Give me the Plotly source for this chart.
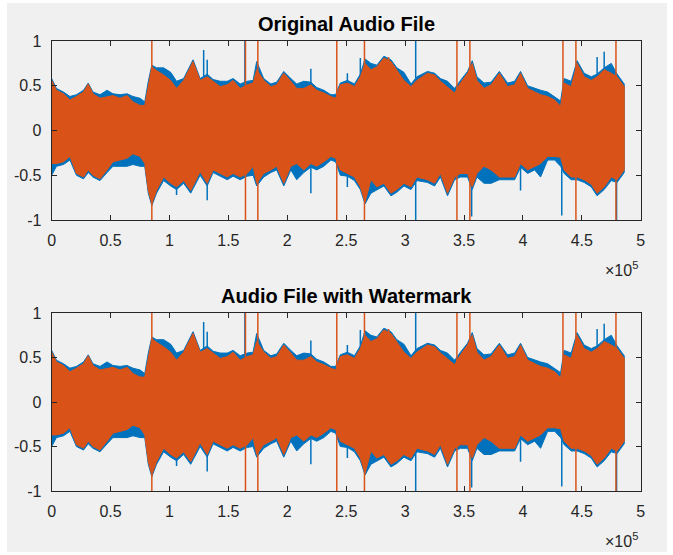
import plotly.graph_objects as go

# ---------------- data ----------------
# envelope sample positions, in units of 1e5 samples
env_x = [0.00, 0.04, 0.10, 0.155, 0.21, 0.27, 0.31, 0.35, 0.41, 0.47,
         0.52, 0.58, 0.64, 0.69, 0.75, 0.79, 0.82, 0.85, 0.89, 0.95,
         1.01, 1.06, 1.12, 1.18, 1.20, 1.26, 1.32, 1.37, 1.43, 1.49,
         1.54, 1.60, 1.66, 1.71, 1.74, 1.80, 1.86, 1.91, 1.97, 2.03,
         2.08, 2.14, 2.20, 2.25, 2.31, 2.37, 2.41, 2.45, 2.51, 2.57,
         2.62, 2.66, 2.71, 2.76, 2.82, 2.88, 2.93, 2.99, 3.05, 3.10,
         3.19, 3.25, 3.30, 3.36, 3.42, 3.47, 3.53, 3.57, 3.61, 3.67,
         3.73, 3.80, 3.87, 3.93, 3.98, 4.04, 4.10, 4.15, 4.21, 4.27,
         4.32, 4.35, 4.41, 4.46, 4.52, 4.58, 4.63, 4.69, 4.75, 4.80,
         4.86]

# orange (second channel) upper / lower envelope
orange_hi = [0.56, 0.45, 0.41, 0.34, 0.38, 0.43, 0.52, 0.41, 0.36, 0.38,
             0.39, 0.36, 0.39, 0.32, 0.28, 0.28, 0.52, 0.71, 0.67, 0.62,
             0.56, 0.47, 0.56, 0.73, 0.77, 0.56, 0.60, 0.55, 0.49, 0.51,
             0.56, 0.47, 0.51, 0.53, 0.68, 0.56, 0.49, 0.51, 0.64, 0.55,
             0.47, 0.47, 0.51, 0.45, 0.42, 0.38, 0.36, 0.51, 0.53, 0.49,
             0.60, 0.75, 0.68, 0.71, 0.81, 0.77, 0.68, 0.56, 0.49, 0.56,
             0.64, 0.62, 0.55, 0.49, 0.42, 0.53, 0.64, 0.75, 0.56, 0.47,
             0.51, 0.64, 0.49, 0.51, 0.64, 0.47, 0.43, 0.40, 0.38, 0.34,
             0.27, 0.53, 0.49, 0.75, 0.60, 0.56, 0.60, 0.68, 0.64, 0.60,
             0.49]
orange_lo = [-0.37, -0.37, -0.35, -0.29, -0.48, -0.52, -0.44, -0.50, -0.54, -0.44,
             -0.35, -0.33, -0.31, -0.26, -0.29, -0.37, -0.67, -0.82, -0.67, -0.52,
             -0.59, -0.63, -0.56, -0.67, -0.62, -0.46, -0.59, -0.44, -0.48, -0.52,
             -0.48, -0.52, -0.48, -0.40, -0.59, -0.48, -0.44, -0.40, -0.59, -0.40,
             -0.37, -0.44, -0.37, -0.40, -0.35, -0.29, -0.31, -0.44, -0.48, -0.52,
             -0.63, -0.80, -0.55, -0.63, -0.59, -0.70, -0.66, -0.59, -0.63, -0.52,
             -0.55, -0.59, -0.48, -0.70, -0.52, -0.48, -0.48, -0.63, -0.48, -0.40,
             -0.44, -0.52, -0.52, -0.52, -0.37, -0.44, -0.40, -0.37, -0.29, -0.29,
             -0.30, -0.44, -0.52, -0.52, -0.55, -0.60, -0.70, -0.63, -0.52, -0.55,
             -0.44]

# blue (first channel) upper / lower envelope
blue_hi = [0.58, 0.47, 0.43, 0.38, 0.40, 0.45, 0.53, 0.43, 0.40, 0.45,
           0.41, 0.40, 0.41, 0.38, 0.36, 0.32, 0.55, 0.73, 0.70, 0.70,
           0.65, 0.55, 0.58, 0.75, 0.79, 0.58, 0.63, 0.57, 0.55, 0.55,
           0.58, 0.52, 0.55, 0.56, 0.77, 0.58, 0.52, 0.54, 0.66, 0.58,
           0.52, 0.55, 0.54, 0.48, 0.45, 0.40, 0.40, 0.53, 0.56, 0.52,
           0.63, 0.80, 0.75, 0.73, 0.83, 0.79, 0.70, 0.65, 0.52, 0.60,
           0.66, 0.64, 0.58, 0.55, 0.47, 0.56, 0.66, 0.78, 0.60, 0.53,
           0.54, 0.66, 0.53, 0.55, 0.66, 0.50, 0.47, 0.45, 0.43, 0.38,
           0.33, 0.58, 0.55, 0.78, 0.64, 0.60, 0.63, 0.70, 0.75, 0.63,
           0.52]
blue_lo = [-0.50, -0.40, -0.38, -0.33, -0.50, -0.54, -0.47, -0.52, -0.56, -0.47,
           -0.40, -0.40, -0.40, -0.38, -0.40, -0.40, -0.70, -0.84, -0.70, -0.56,
           -0.62, -0.66, -0.59, -0.70, -0.65, -0.50, -0.62, -0.47, -0.51, -0.55,
           -0.51, -0.55, -0.51, -0.50, -0.62, -0.52, -0.47, -0.44, -0.62, -0.44,
           -0.55, -0.47, -0.41, -0.44, -0.40, -0.33, -0.35, -0.50, -0.51, -0.56,
           -0.66, -0.82, -0.70, -0.66, -0.62, -0.73, -0.69, -0.62, -0.66, -0.56,
           -0.58, -0.62, -0.52, -0.73, -0.55, -0.52, -0.52, -0.66, -0.52, -0.59,
           -0.59, -0.55, -0.55, -0.55, -0.41, -0.48, -0.44, -0.52, -0.33, -0.33,
           -0.40, -0.48, -0.55, -0.55, -0.58, -0.63, -0.73, -0.66, -0.56, -0.58,
           -0.47]

# isolated clipping spikes: position (1e5 samples), low, high
orange_spike_x = [0.85, 1.645, 1.75, 2.42, 2.655, 3.44, 3.55, 4.45, 4.79, 4.34, 2.86]
orange_spike_lo = [-1, -1, -1, -1, -1, -1, -1, -1, -1, 0.25, 0.3]
orange_spike_hi = [1, 1, 1, 1, 1, 1, 1, 1, 1, 1, 0.82]

blue_spike_x = [1.64, 3.09, 4.33, 4.795, 3.565, 1.29, 4.69,
                1.32, 1.32, 1.06, 2.20, 2.20, 2.62, 2.51, 2.51, 3.98, 4.63]
blue_spike_lo = [0.3, -1, -0.95, -1, -0.96, 0.3, 0.3,
                 0.5, -0.78, -0.72, 0.45, -0.70, 0.5, 0.5, -0.63, -0.67, 0.55]
blue_spike_hi = [1, 1, -0.3, -0.3, -0.3, 0.9, 0.88,
                 0.79, -0.5, -0.5, 0.69, -0.35, 0.81, 0.64, -0.45, -0.35, 0.82]

x_tick_vals = [0, 0.5, 1, 1.5, 2, 2.5, 3, 3.5, 4, 4.5, 5]
x_tick_text = ["0", "0.5", "1", "1.5", "2", "2.5", "3", "3.5", "4", "4.5", "5"]
y_tick_vals = [-1, -0.5, 0, 0.5, 1]
y_tick_text = ["-1", "-0.5", "0", "0.5", "1"]
titles = ["Original Audio File", "Audio File with Watermark"]

SCALE = 1e5
BLUE = "#0072BD"
ORANGE = "#D95319"
AX = "#262626"
FONT = "Liberation Sans, Arial, Helvetica, sans-serif"

W, H = 673, 555


def py(pix):
    return (H - pix) / H


def px(pix):
    return pix / W


fig = go.Figure()

# panel geometry in pixels: (top, bottom)
panels = [(41, 220), (313, 491)]
x_left, x_right = 51.7, 640.7


def band(xs, hi, lo):
    xx = [v * SCALE for v in xs] + [v * SCALE for v in xs[::-1]]
    yy = list(hi) + list(lo[::-1])
    return xx, yy


def spikes(xs, lo, hi):
    xx, yy = [], []
    for a, l, h in zip(xs, lo, hi):
        xx += [a * SCALE, a * SCALE, None]
        yy += [l, h, None]
    return xx, yy


for i, (top, bot) in enumerate(panels):
    xa = "x" if i == 0 else "x2"
    ya = "y" if i == 0 else "y2"
    bx, by = band(env_x, blue_hi, blue_lo)
    fig.add_trace(go.Scatter(x=bx, y=by, fill="toself", fillcolor=BLUE, mode="lines",
                             line=dict(color=BLUE, width=1), xaxis=xa, yaxis=ya,
                             showlegend=False, hoverinfo="skip"))
    sx, sy = spikes(blue_spike_x, blue_spike_lo, blue_spike_hi)
    fig.add_trace(go.Scatter(x=sx, y=sy, mode="lines", line=dict(color=BLUE, width=1.5),
                             xaxis=xa, yaxis=ya, showlegend=False, hoverinfo="skip"))
    ox, oy = band(env_x, orange_hi, orange_lo)
    fig.add_trace(go.Scatter(x=ox, y=oy, fill="toself", fillcolor=ORANGE, mode="lines",
                             line=dict(color=ORANGE, width=1), xaxis=xa, yaxis=ya,
                             showlegend=False, hoverinfo="skip"))
    sx, sy = spikes(orange_spike_x, orange_spike_lo, orange_spike_hi)
    fig.add_trace(go.Scatter(x=sx, y=sy, mode="lines", line=dict(color=ORANGE, width=1.5),
                             xaxis=xa, yaxis=ya, showlegend=False, hoverinfo="skip"))

axis_common = dict(showline=True, linecolor=AX, linewidth=1, mirror="ticks",
                   ticks="inside", ticklen=5, tickcolor=AX, tickwidth=1,
                   showgrid=False, zeroline=False, automargin=False,
                   tickfont=dict(family=FONT, size=16, color=AX))

layout_axes = {}
for i, (top, bot) in enumerate(panels):
    sfx = "" if i == 0 else "2"
    layout_axes["xaxis" + sfx] = dict(
        axis_common, domain=[px(x_left), px(x_right)], range=[0, 5 * SCALE],
        tickvals=[v * SCALE for v in x_tick_vals], ticktext=x_tick_text,
        anchor="y" + sfx, ticklabelstandoff=6)
    layout_axes["yaxis" + sfx] = dict(
        axis_common, domain=[py(bot), py(top)], range=[-1, 1],
        tickvals=y_tick_vals, ticktext=y_tick_text,
        anchor="x" + sfx, ticklabelstandoff=6)

annotations = []
for i, (top, bot) in enumerate(panels):
    annotations.append(dict(text="<b>" + titles[i] + "</b>", xref="paper", yref="paper",
                            x=px((x_left + x_right) / 2), y=py(top - 17),
                            xanchor="center", yanchor="middle", showarrow=False,
                            font=dict(family=FONT, size=20, color="#000000")))
    annotations.append(dict(text="\u00d710<sup>5</sup>", xref="paper", yref="paper",
                            x=px(640), y=py(bot + 49), xanchor="right", yanchor="middle",
                            showarrow=False, font=dict(family=FONT, size=16, color=AX)))

fig.update_layout(
    width=W, height=H, margin=dict(l=0, r=0, t=0, b=0),
    paper_bgcolor="#ffffff", plot_bgcolor="#ffffff",
    shapes=[dict(type="rect", xref="paper", yref="paper", x0=px(7), x1=px(667),
                 y0=py(552), y1=py(3), fillcolor="#f0f0f0", line=dict(width=0),
                 layer="below")],
    annotations=annotations,
    **layout_axes,
)

fig.write_html("out.html", config={"displayModeBar": False},
               post_script="document.body.style.margin='0';document.body.style.overflow='hidden';")
